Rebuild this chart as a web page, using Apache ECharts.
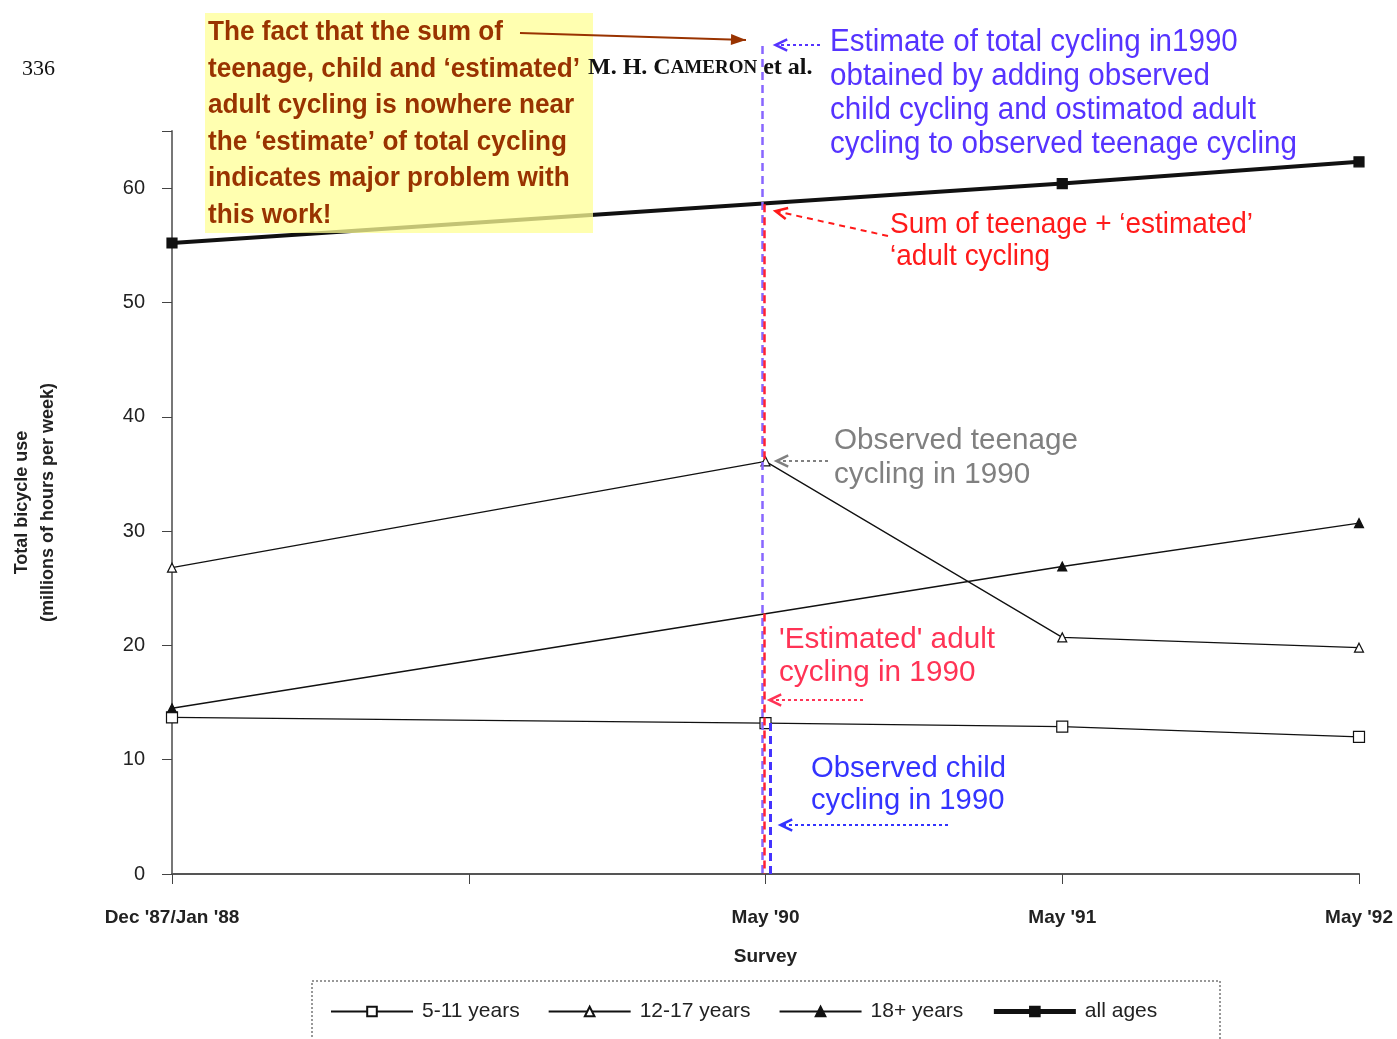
<!DOCTYPE html>
<html>
<head>
<meta charset="utf-8">
<script src="https://cdn.jsdelivr.net/npm/echarts@6.0.0/dist/echarts.min.js"></script>
<style>
  html, body { margin: 0; padding: 0; background: #fff; }
  #main { width: 1397px; height: 1039px; }
</style>
</head>
<body>
<div id="main"></div>
<script>
// survey points (the blank one is the unlabelled tick between Jan '88 and May '90)
var categories = ["Dec '87/Jan '88", '', "May '90", "May '91", "May '92"]
var child = [13.7, null, 13.2, 12.9, 12.0]
var teen = [26.8, null, 36.1, 20.7, 19.8]
var adult = [14.5, null, null, 26.9, 30.7]
var allAges = [55.2, null, null, 60.4, 62.3]
var yTicks = [0, 10, 20, 30, 40, 50, 60]

var sans = '"Liberation Sans", Arial, sans-serif'
var chart = echarts.init(document.getElementById('main'))

function lineSeries(name, data, symbol, fill, width, size) {
  return {
    name: name,
    type: 'line',
    data: data,
    connectNulls: true,
    symbol: symbol,
    symbolSize: size,
    showAllSymbol: true,
    lineStyle: { color: '#111', width: width },
    itemStyle: { color: fill, borderColor: '#111', borderWidth: 1.2 },
    emphasis: { disabled: true },
    z: 3
  }
}

var option = {
  animation: false,
  backgroundColor: '#fff',
  grid: { left: 172, right: 38, top: 131, bottom: 165, outerBoundsMode: 'none', containLabel: false },
  xAxis: {
    type: 'category',
    data: categories,
    boundaryGap: false,
    name: 'Survey',
    nameLocation: 'middle',
    nameGap: 73,
    nameTextStyle: { fontFamily: sans, fontSize: 19, fontWeight: 'bold', color: '#222' },
    axisLine: { lineStyle: { color: '#555', width: 2 } },
    axisTick: { length: 10, lineStyle: { color: '#444' } },
    axisLabel: { margin: 34, fontFamily: sans, fontSize: 19, fontWeight: 'bold', color: '#222', interval: 0 },
    splitLine: { show: false }
  },
  yAxis: {
    type: 'value',
    min: 0,
    max: 65,
    interval: 10,
    name: 'Total bicycle use\n(millions of hours per week)',
    nameLocation: 'middle',
    nameRotate: 90,
    nameGap: 111,
    nameTextStyle: { fontFamily: sans, fontSize: 18, fontWeight: 'bold', color: '#222', lineHeight: 26 },
    axisLine: { show: true, lineStyle: { color: '#777', width: 2 } },
    axisTick: { show: true, length: 10, lineStyle: { color: '#444' } },
    axisLabel: {
      margin: 27, fontFamily: sans, fontSize: 20, color: '#222',
      formatter: function (v) { return yTicks.indexOf(v) >= 0 ? v : '' }
    },
    splitLine: { show: false }
  },
  legend: {
    left: 330,
    top: 1001,
    padding: 0,
    itemWidth: 82,
    itemHeight: 12,
    itemGap: 28,
    textStyle: { fontFamily: sans, fontSize: 21, color: '#222', padding: [0, 0, 0, 4] },
    data: [
      { name: '5-11 years' },
      { name: '12-17 years' },
      { name: '18+ years' },
      { name: 'all ages', lineStyle: { width: 5 } }
    ]
  },
  series: [
    lineSeries('5-11 years', child, 'rect', '#fff', 1.3, 11),
    lineSeries('12-17 years', teen, 'triangle', '#fff', 1.3, 9),
    lineSeries('18+ years', adult, 'triangle', '#111', 1.3, 9),
    lineSeries('all ages', allAges, 'rect', '#111', 4, 10)
  ]
}
chart.setOption(option)

// annotation overlay
var measureCtx = document.createElement('canvas').getContext('2d')
function fitScale(font, line, target) {
  measureCtx.font = font
  return target / measureCtx.measureText(line).width
}
function arrow(x1, y1, x2, y2, color, dash, w) {
  var a = Math.atan2(y2 - y1, x2 - x1)
  var h = 13
  var p1 = [x2 - h * Math.cos(a - 0.45), y2 - h * Math.sin(a - 0.45)]
  var p2 = [x2 - h * Math.cos(a + 0.45), y2 - h * Math.sin(a + 0.45)]
  return [
    { type: 'line', shape: { x1: x1, y1: y1, x2: x2, y2: y2 }, style: { stroke: color, lineWidth: w || 2, lineDash: dash }, z: 20 },
    { type: 'polyline', shape: { points: [p1, [x2, y2], p2] }, style: { stroke: color, lineWidth: 2.5, fill: null }, z: 20 }
  ]
}
function solidArrow(x1, y1, x2, y2, color) {
  var a = Math.atan2(y2 - y1, x2 - x1)
  var h = 16
  var p1 = [x2 - h * Math.cos(a - 0.35), y2 - h * Math.sin(a - 0.35)]
  var p2 = [x2 - h * Math.cos(a + 0.35), y2 - h * Math.sin(a + 0.35)]
  return [
    { type: 'line', shape: { x1: x1, y1: y1, x2: x2, y2: y2 }, style: { stroke: color, lineWidth: 2 }, z: 20 },
    { type: 'polygon', shape: { points: [p1, [x2, y2], p2] }, style: { fill: color }, z: 20 }
  ]
}
function vline(x, y1, y2, color, w) {
  return { type: 'line', shape: { x1: x, y1: y1, x2: x, y2: y2 }, style: { stroke: color, lineWidth: w || 2.5, lineDash: [8, 5] }, z: 15 }
}
// text block squeezed so that refLine spans refWidth px, like the narrow fonts in the scan
function label(x, y, lines, color, size, weight, lh, refLine, refWidth) {
  var font = (weight || 'normal') + ' ' + size + 'px ' + sans
  var s = fitScale(font, lines[refLine], refWidth)
  return {
    type: 'text', x: x, y: y, z: 25, scaleX: s,
    style: {
      text: lines.join('\n'), fill: color, fontSize: size, fontWeight: weight || 'normal',
      fontFamily: sans, lineHeight: lh, textVerticalAlign: 'top'
    }
  }
}

var x90 = chart.convertToPixel({ xAxisIndex: 0 }, "May '90")
function py(v) { return chart.convertToPixel({ yAxisIndex: 0 }, v) }
var yBase = py(0)

var g = []
// header bits of the scanned page
g.push({ type: 'text', x: 22, y: 58, z: 25, style: { text: '336', fill: '#111', fontSize: 22, fontFamily: '"Liberation Serif", serif', textVerticalAlign: 'top' } })
g.push({
  type: 'text', x: 588, y: 56, z: 25,
  style: {
    text: '{a|M. H. C}{b|AMERON}{a| et al.}',
    fill: '#111', textVerticalAlign: 'top',
    rich: {
      a: { fontSize: 24, fontFamily: '"Liberation Serif", serif', fontWeight: 'bold', fill: '#111' },
      b: { fontSize: 19, fontFamily: '"Liberation Serif", serif', fontWeight: 'bold', fill: '#111' }
    }
  }
})
// yellow note
g.push({ type: 'rect', shape: { x: 205, y: 13, width: 388, height: 220 }, style: { fill: 'rgba(255,255,150,0.75)' }, z: 10 })
g.push(label(208, 14, ['The fact that the sum of', 'teenage, child and \u2018estimated\u2019', 'adult cycling is nowhere near',
  'the \u2018estimate\u2019 of total cycling', 'indicates major problem with', 'this work!'], '#993300', 28, 'bold', 36.6, 1, 372))
g = g.concat(solidArrow(520, 33, 746, 40, '#993300'))

// vertical guide lines at May '90
g.push(vline(x90 - 3, 46, yBase, '#8866ff', 2.5))
g.push(vline(x90 - 1, py(58.6), py(36.1), '#ff2233', 2.5))
g.push(vline(x90 - 1, py(22.8), yBase, '#ff2233', 2.5))
g.push(vline(x90 + 5, py(13.2), yBase, '#4433ff', 3))

// blue total note
g.push(label(830, 25, ['Estimate of total cycling in1990', 'obtained by adding observed', 'child cycling and ostimatod adult',
  'cycling to observed teenage cycling'], '#5533ff', 31, 'normal', 34.2, 3, 467))
g = g.concat(arrow(820, 45, x90 + 10, 45, '#5533ff', [3, 3]))

// red sum note
g.push(label(890, 209, ['Sum of teenage + \u2018estimated\u2019', '\u2018adult cycling'], '#ff1a1a', 30, 'normal', 32, 0, 363))
g = g.concat(arrow(888, 236, x90 + 10, 211, '#ff1a1a', [6, 5]))

// grey teenage note
g.push(label(834, 424, ['Observed teenage', 'cycling in 1990'], '#808080', 29, 'normal', 34, 0, 244))
g = g.concat(arrow(828, 461, x90 + 11, 461, '#808080', [3, 3]))

// pink adult note
g.push(label(779, 623, ['\'Estimated\' adult', 'cycling in 1990'], '#ff3355', 29, 'normal', 33, 0, 216))
g = g.concat(arrow(863, 700, x90 + 4, 700, '#ff3355', [3, 3]))

// blue child note
g.push(label(811, 753, ['Observed child', 'cycling in 1990'], '#3333ff', 30, 'normal', 32, 0, 195))
g = g.concat(arrow(948, 825, x90 + 15, 825, '#3333ff', [3, 3]))

// legend frame
g.push({ type: 'rect', shape: { x: 312, y: 981, width: 908, height: 70 }, style: { fill: null, stroke: '#777', lineWidth: 1.5, lineDash: [2, 2] }, z: 5 })

chart.setOption({ graphic: g })
</script>
</body>
</html>
